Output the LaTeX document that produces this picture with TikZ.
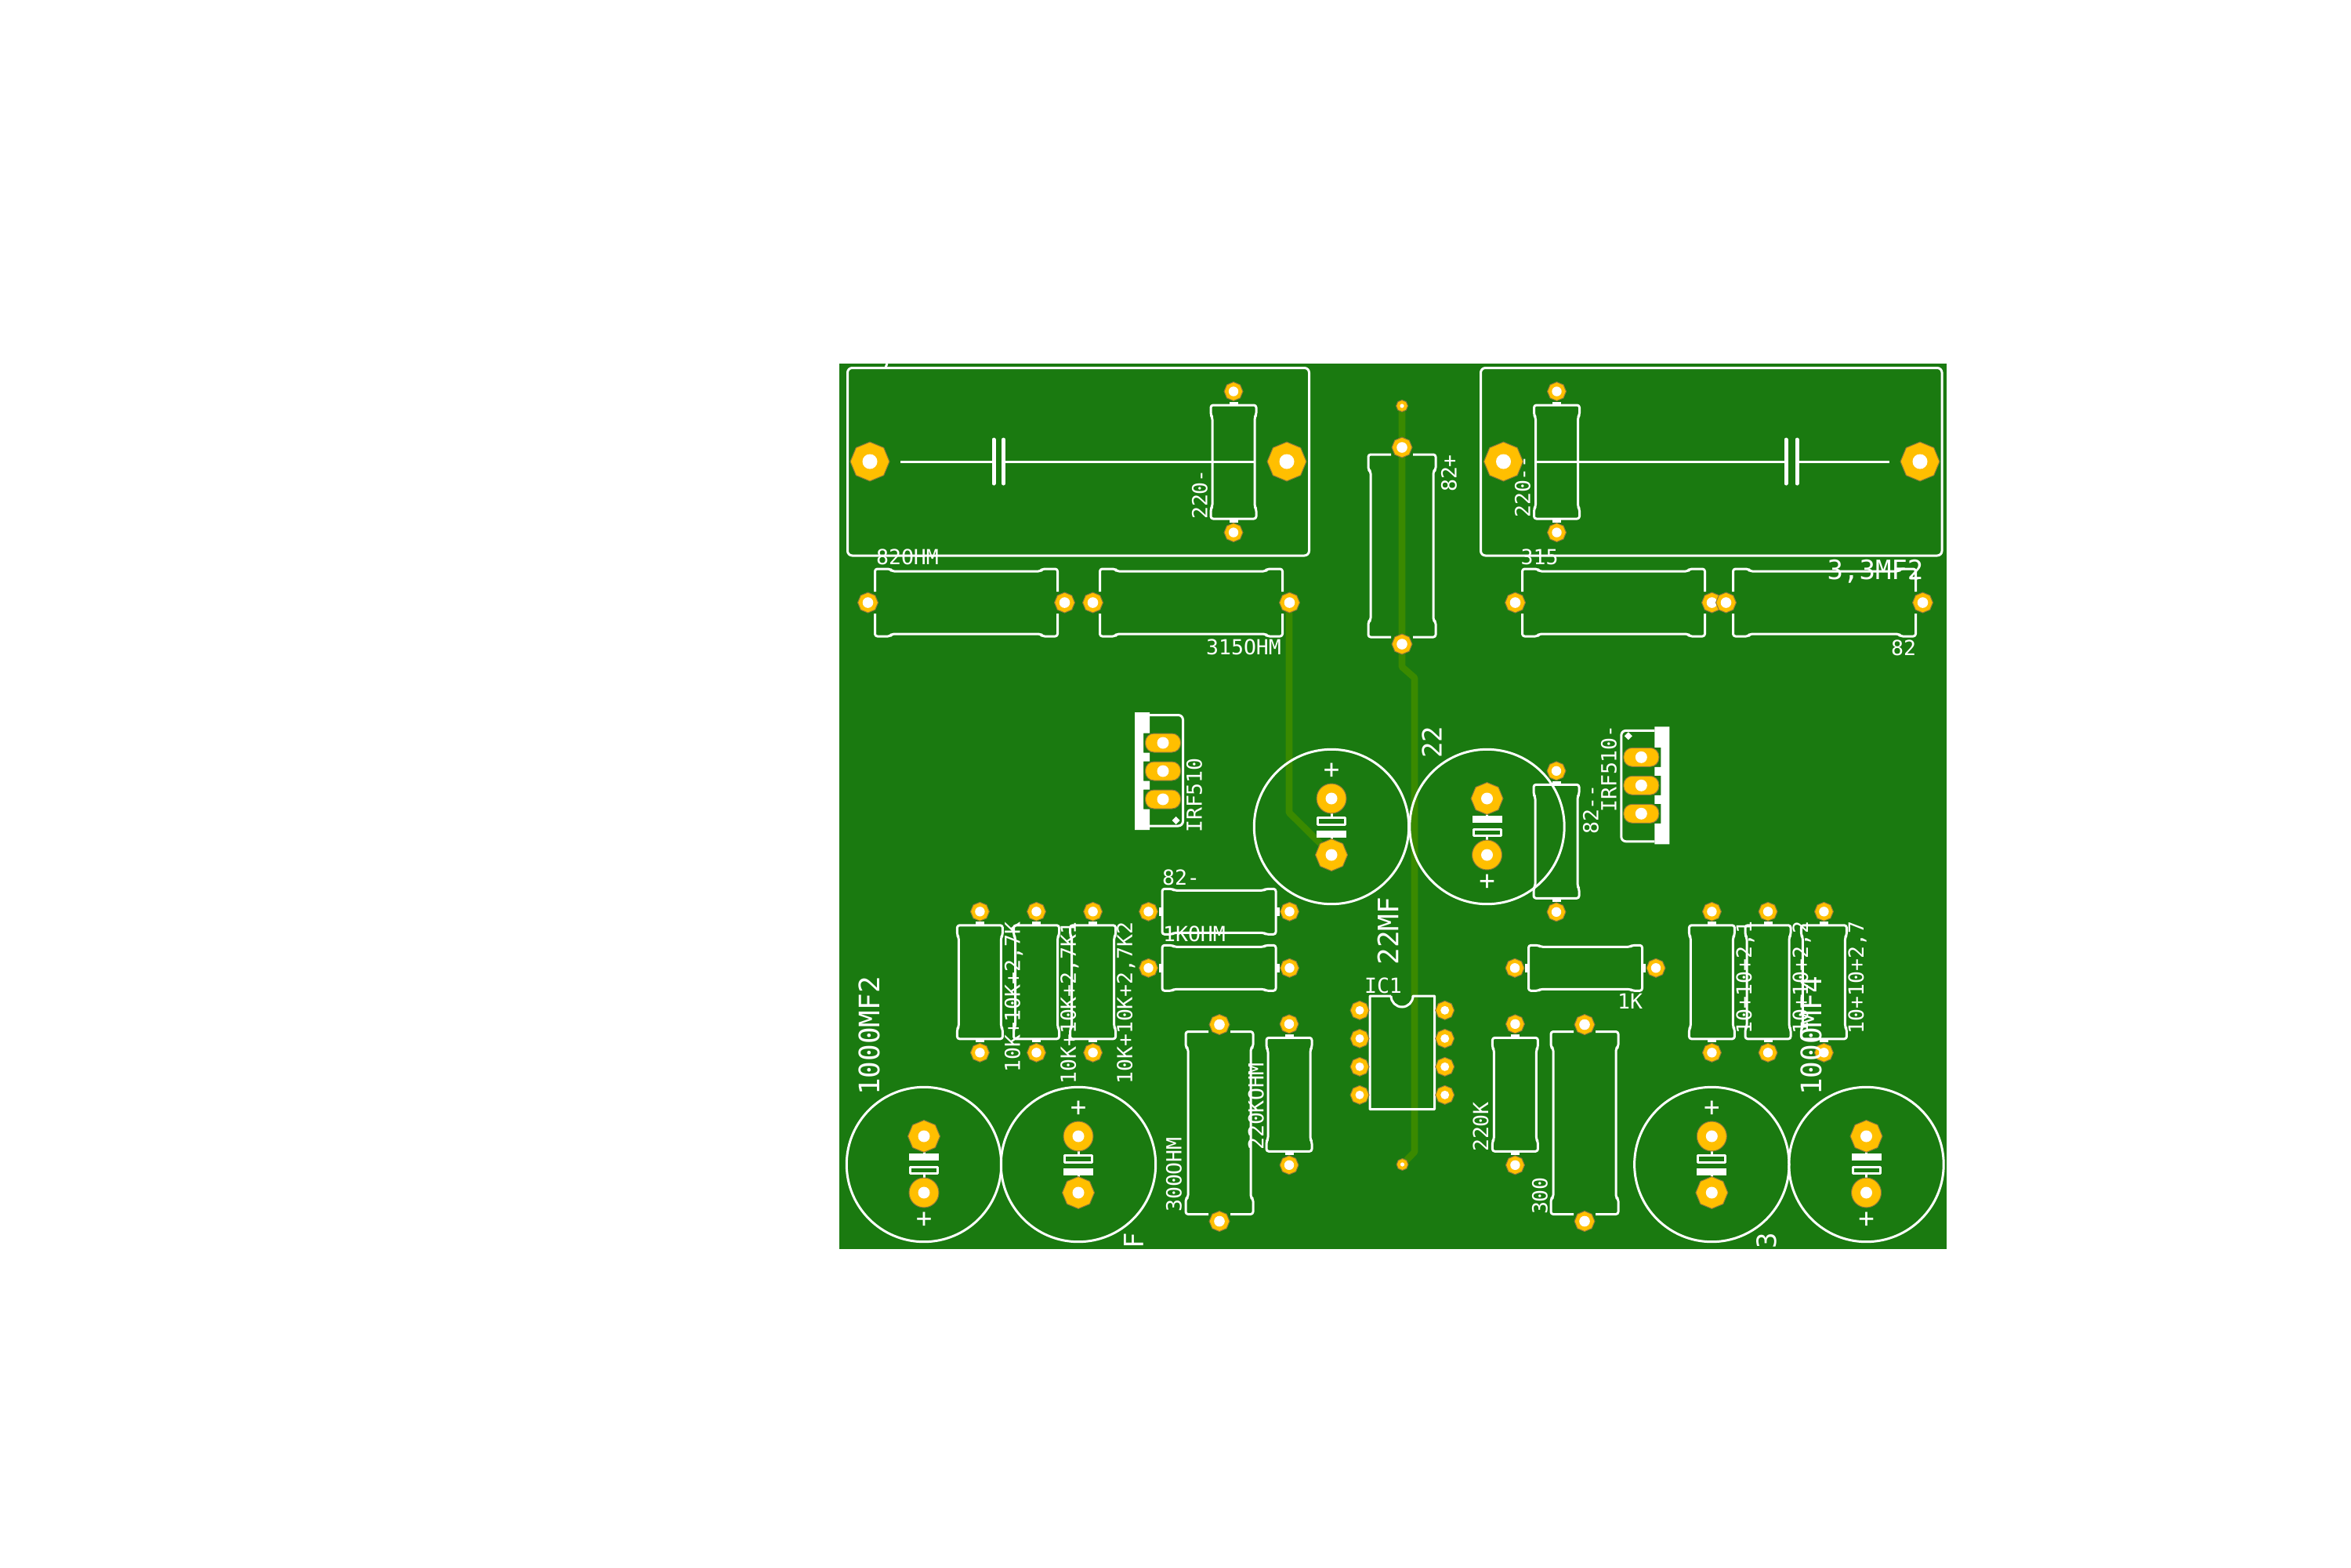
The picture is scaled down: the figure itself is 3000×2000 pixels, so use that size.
\documentclass[tikz,border=0pt]{standalone}
\usepackage{fontspec}
\usepackage{tikz}
\usetikzlibrary{shapes.geometric,positioning}
\newfontfamily\silkfont{DejaVu Sans Mono}
\definecolor{pcbgreen}{RGB}{26,122,16}
\definecolor{pcbtrace}{RGB}{58,138,0}
\definecolor{pcbpad}{RGB}{255,191,0}
\definecolor{pcbedge}{RGB}{140,120,60}
\tikzstyle{silk} = [draw=white, line width=3pt, line join=round]
\tikzstyle{trace} = [draw=pcbtrace, line width=8.6pt, line join=round]
\tikzstyle{hole} = [path picture={\fill[white] (path picture bounding box.center) circle (#1);}]
\tikzstyle{padoct} = [regular polygon, regular polygon sides=8, shape border rotate=22.5, inner sep=0pt, fill=pcbpad, draw=pcbedge, line width=1pt]
\tikzstyle{padS} = [padoct, minimum size=24pt, hole=6.2pt]
\tikzstyle{padM} = [padoct, minimum size=26pt, hole=6.8pt]
\tikzstyle{padL} = [padoct, minimum size=50pt, hole=9.5pt]
\tikzstyle{padT} = [padoct, minimum size=15pt, hole=2.6pt]
\tikzstyle{padcap} = [padoct, minimum size=41pt, hole=7.5pt]
\tikzstyle{padround} = [circle, minimum size=38pt, inner sep=0pt, fill=pcbpad, draw=pcbedge, line width=1pt, hole=7.5pt]
\tikzstyle{padirf} = [rectangle, rounded corners=11pt, minimum width=45pt, minimum height=24pt, inner sep=0pt, fill=pcbpad, draw=pcbedge, line width=1pt, hole=7.5pt]
\tikzstyle{lbl} = [font=\silkfont\fontsize{26.5}{26.5}\selectfont, text=white, inner sep=0pt]
\tikzstyle{lblbig} = [font=\silkfont\fontsize{34}{34}\selectfont, text=white, inner sep=0pt]
\tikzstyle{lblwide} = [font=\silkfont\fontsize{36}{36}\selectfont, text=white, inner sep=0pt]
% small resistor: name, x, y, rotation
\newcommand{\resS}[4]{
\begin{scope}[shift={(#2,#3)}, rotate=#4]
\draw[silk, rounded corners=3pt] (-27,-57) -- (-29,-60) -- (-29,-72.5) -- (29,-72.5) -- (29,-60) -- (27,-57) -- (27,57) -- (29,60) -- (29,72.5) -- (-29,72.5) -- (-29,60) -- (-27,57) -- cycle;
\fill[white] (-5.5,-77) rectangle (5.5,-72.5);
\fill[white] (-5.5,72.5) rectangle (5.5,77);
\node[padS] (#1a) at (0,-90) {};
\node[padS] (#1b) at (0,90) {};
\end{scope}
}
% big resistor, outline broken around its pads
\newcommand{\resB}[4]{
\begin{scope}[shift={(#2,#3)}, rotate=#4]
\draw[silk, rounded corners=3pt] (-14,-116.5) -- (-43,-116.5) -- (-43,-97) -- (-40,-95) -- (-40,95) -- (-43,97) -- (-43,116.5) -- (-14,116.5);
\draw[silk, rounded corners=3pt] (14,-116.5) -- (43,-116.5) -- (43,-97) -- (40,-95) -- (40,95) -- (43,97) -- (43,116.5) -- (14,116.5);
\node[padM] (#1a) at (0,-125.5) {};
\node[padM] (#1b) at (0,125.5) {};
\end{scope}
}
% electrolytic capacitor
\newcommand{\elcap}[4]{
\begin{scope}[shift={(#2,#3)}, rotate=#4]
\draw[silk] (0,0) circle (98.7pt);
\draw[silk] (-17.5,-11.5) rectangle (17.5,-3);
\fill[white] (-19,5) rectangle (19,14);
\draw[silk] (0,-18) -- (0,-11.5);
\draw[silk] (0,14) -- (0,18);
\node[padround] (#1a) at (0,-36) {};
\node[padcap] (#1b) at (0,36) {};
\node[lblbig] (#1p) at (0,-71) {+};
\end{scope}
}
% power transistor with tab
\newcommand{\irf}[4]{
\begin{scope}[shift={(#2,#3)}, rotate=#4]
\fill[white] (-36,-75) -- (-17,-75) -- (-17,-48.5) -- (-25,-48.5) -- (-25,-23.5) -- (-17,-23.5) -- (-17,-12.5) -- (-25,-12.5) -- (-25,12.5) -- (-17,12.5) -- (-17,23.5) -- (-25,23.5) -- (-25,48.5) -- (-17,48.5) -- (-17,75) -- (-36,75) -- cycle;
\draw[silk, rounded corners=6pt] (-17,-71.5) -- (25.5,-71.5) -- (25.5,70) -- (-17,70);
\fill[white] (11.5,63) -- (16.5,58) -- (21.5,63) -- (16.5,68) -- cycle;
\node[padirf] (#1a) at (0,-36) {};
\node[padirf] (#1b) at (0,0) {};
\node[padirf] (#1c) at (0,36) {};
\end{scope}
}
\begin{document}
\begin{tikzpicture}[x=1pt, y=-1pt]
\useasboundingbox (0,0) rectangle (3000,2000);
% Board
\fill[pcbgreen] (1071,464) rectangle (2484,1594);
% Copper
\coordinate (tra) at (1645,769);
\coordinate (trb) at (1645,1037);
\coordinate (trc) at (1699.5,1091);
\coordinate (trd) at (1789,518);
\coordinate (tre) at (1789,851);
\coordinate (trf) at (1805,865);
\coordinate (trg) at (1805,1470);
\coordinate (trh) at (1789.5,1486);
\draw[trace] (tra) -- (trb) -- (trc);
\draw[trace] (trd) -- (tre) -- (trf) -- (trg) -- (trh);
\node[padT] (ptop) at (trd) {};
\node[padT] (pbot) at (trh) {};
% Capacitor boxes
\draw[silk, rounded corners=6pt] (1081.5,469.5) rectangle (1670.5,709);
\draw[silk] (1132,464) -- (1130,469);
\node[padL] (cl1) at (1110,589) {};
\node[padL] (cl2) at (1642,589) {};
\draw[silk] (1149,589) -- (1268,589);
\draw[line width=5pt, white, line cap=round] (1268,561) -- (1268,617);
\draw[line width=5pt, white, line cap=round] (1280.5,561) -- (1280.5,617);
\draw[silk] (1280.5,589) -- (1601.5,589);
\draw[silk, rounded corners=6pt] (1889.5,469.5) rectangle (2478,709);
\node[padL] (cr1) at (1918.5,589) {};
\node[padL] (cr2) at (2450,589) {};
\draw[silk] (1958,589) -- (2279,589);
\draw[line width=5pt, white, line cap=round] (2279,561) -- (2279,617);
\draw[line width=5pt, white, line cap=round] (2293,561) -- (2293,617);
\draw[silk] (2293,589) -- (2410.5,589);
% Resistors
\resS{rtl}{1574}{589.5}{0}
\resS{rtr}{1986.5}{589.5}{0}
\resB{rh1}{1233}{769}{90}
\resB{rh2}{1520}{769}{90}
\resB{rh3}{2059}{769}{90}
\resB{rh4}{2328}{769}{90}
\resB{rmid}{1789}{696.5}{0}
\resS{rn}{1986}{1073.8}{0}
\resS{rk1}{1250.4}{1253.3}{0}
\resS{rk2}{1322.5}{1253.3}{0}
\resS{rk3}{1394.6}{1253.3}{0}
\resS{rp1}{2184.4}{1253.3}{0}
\resS{rp2}{2256}{1253.3}{0}
\resS{rp3}{2327.4}{1253.3}{0}
\resS{rs1}{1555.5}{1163.3}{90}
\resS{rs2}{1555.5}{1235.3}{90}
\resS{rs3}{2023}{1235.3}{90}
\resB{rb1}{1556}{1433}{0}
\resB{rb2}{2022}{1433}{0}
\resS{rv1}{1645}{1396.8}{0}
\resS{rv2}{1933.4}{1396.8}{0}
% Capacitors
\elcap{c1}{1699}{1055}{0}
\elcap{c2}{1897.5}{1055}{180}
\elcap{c3}{1179}{1486}{180}
\elcap{c4}{1376}{1486}{0}
\elcap{c5}{2184.3}{1486}{0}
\elcap{c6}{2381.5}{1486}{180}
% Transistors
\irf{q1}{1484}{984}{0}
\irf{q2}{2094.3}{1002.3}{180}
% IC
\draw[silk] (1775,1271) -- (1748,1271) -- (1748,1415.7) -- (1830.5,1415.7) -- (1830.5,1271) -- (1803,1271) arc (0:-180:14pt);
\node[padS, hole=5.5pt] (ic1) at (1735,1289.3) {};
\node[padS, hole=5.5pt] (ic2) at (1735,1325.3) {};
\node[padS, hole=5.5pt] (ic3) at (1735,1361.3) {};
\node[padS, hole=5.5pt] (ic4) at (1735,1397.3) {};
\node[padS, hole=5.5pt] (ic5) at (1843.7,1289.3) {};
\node[padS, hole=5.5pt] (ic6) at (1843.7,1325.3) {};
\node[padS, hole=5.5pt] (ic7) at (1843.7,1361.3) {};
\node[padS, hole=5.5pt] (ic8) at (1843.7,1397.3) {};
% Labels
\node[lbl, rotate=90] (l1) at (1531,631) {220-};
\node[lbl, rotate=90] (l2) at (1943,621) {220--};
\node[lbl, rotate=90] (l3) at (1849,604) {82+};
\node[lbl] (l4) at (1158,711) {82OHM};
\node[lbl] (l5) at (1587,826) {315OHM};
\node[lbl] (l6) at (1964.6,711) {315};
\node[lbl] (l7) at (2429,826.7) {82};
\node[lblbig] (l8) at (2393,729) {3,3MF2};
\node[lbl, font=\silkfont\fontsize{20}{20}\selectfont] (l9) at (2442.5,736) {4};
\node[lbl, rotate=90] (l10) at (1524,1015) {IRF510};
\node[lbl, rotate=90] (l11) at (2053,981) {IRF510-};
\node[lbl, rotate=90] (l12) at (2030,1033) {82--};
\node[lblbig, rotate=90] (l13) at (1827,947) {22};
\node[lblwide, rotate=90] (l14) at (1771,1188) {22MF};
\node[lbl] (l15) at (1507,1120) {82-};
\node[lbl] (l16) at (1524,1192) {1KOHM};
\node[lbl] (l17) at (1765,1258) {IC1};
\node[lbl] (l18) at (2080,1278) {1K};
\node[lbl, rotate=90] (l19) at (1293.6,1272.5) {10K+10K+2,7K};
\node[lbl, rotate=90] (l20) at (1365,1280) {10K+10K+2,7K1};
\node[lbl, rotate=90] (l21) at (1437,1280) {10K+10K+2,7K2};
\node[lbl, rotate=90] (l22) at (1498,1499) {300OHM};
\node[lbl, rotate=90] (l23) at (1602.6,1412) {220KOHM};
\node[lbl, rotate=90] (l24) at (1889.5,1438) {220K};
\node[lbl, rotate=90] (l25) at (1965,1526) {300};
\node[lbl, rotate=90] (l26) at (2227,1247.5) {10+10+2,1};
\node[lbl, rotate=90] (l27) at (2299,1247.5) {10+10+2,2};
\node[lbl, rotate=90] (l28) at (2370,1247.5) {10+10+2,7};
\node[lblwide, rotate=90] (l29) at (1109,1322) {1000MF2};
\node[lblwide, rotate=90] (l30) at (2311,1322) {1000MF4};
\node[lblbig, rotate=90] (l31) at (1446.5,1583) {F};
\node[lblbig, rotate=90] (l32) at (2254,1583) {3};
\end{tikzpicture}
\end{document}
